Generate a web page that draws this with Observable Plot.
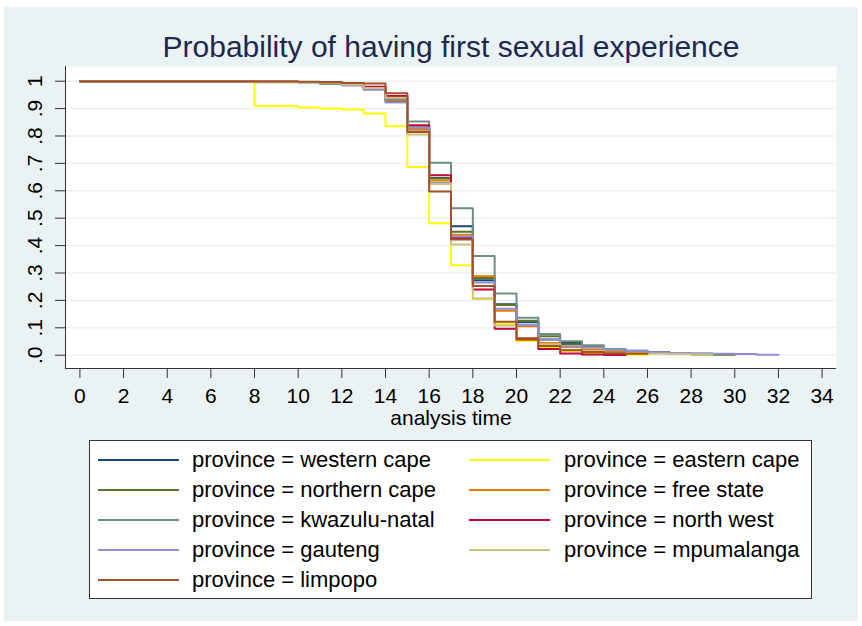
<!DOCTYPE html>
<html><head><meta charset="utf-8">
<script src="https://cdn.jsdelivr.net/npm/d3@7"></script>
<script src="https://cdn.jsdelivr.net/npm/@observablehq/plot@0.6"></script>
<style>
html,body{margin:0;padding:0;background:#fff;}
#wrap{position:relative;width:862px;height:626px;overflow:hidden;background:#fff;font-family:"Liberation Sans",Arial,sans-serif;}
#bg{position:absolute;left:4px;top:7px;width:854px;height:614px;background:#eaf2f3;}
#chart{position:absolute;left:0;top:0;}
#legendBox{position:absolute;left:89px;top:440px;width:723px;height:159px;background:#fff;border:1px solid #333;box-sizing:border-box;}
.sw{position:absolute;height:2px;}
.lb{position:absolute;font-size:22px;line-height:22px;white-space:nowrap;color:#000;}
</style></head>
<body>
<div id="wrap"><div id="bg"></div><div id="chart"></div><div id="legendBox"></div></div>
<script>
// ---- data (survival estimate at each year 0,1,2,... ; series ends one year after its last value) ----
const provinces = ["western cape","eastern cape","northern cape","free state","kwazulu-natal","north west","gauteng","mpumalanga","limpopo"];
const colors = ["#1a476f","#ffff00","#55752f","#e37e00","#6e8e84","#c10534","#938dd2","#cac27e","#a0522d"];

const westernCape  = [1,1,1,1,1,1,1,1, 0.997,0.997,0.997,0.995,0.990,0.975,0.925,0.830,0.647,0.471,0.274,0.186,0.120,0.057,0.045,0.032,0.021,0.016,0.012,0.008,0.005];
const easternCape  = [1,1,1,1,1,1,1,1, 0.909,0.909,0.904,0.900,0.897,0.882,0.836,0.687,0.482,0.328,0.205,0.114,0.052,0.030,0.015,0.008,0.004,0.002];
const northernCape = [1,1,1,1,1,1,1,1, 0.998,0.998,0.997,0.995,0.990,0.975,0.930,0.831,0.645,0.451,0.282,0.183,0.126,0.069,0.040,0.030,0.020,0.012,0.008,0.005,0.003,0.002];
const freeState    = [1,1,1,1,1,1,1,1, 0.998,0.998,0.997,0.995,0.990,0.975,0.930,0.823,0.638,0.440,0.288,0.162,0.106,0.045,0.030,0.021,0.012,0.008];
const kwazuluNatal = [1,1,1,1,1,1,1,1, 0.996,0.996,0.995,0.990,0.985,0.970,0.935,0.853,0.702,0.536,0.362,0.225,0.137,0.077,0.051,0.036,0.022,0.015,0.010];
const northWest    = [1,1,1,1,1,1,1,1, 0.998,0.998,0.997,0.995,0.990,0.980,0.946,0.839,0.657,0.428,0.240,0.097,0.057,0.023,0.006,0.003,0.001];
const gauteng      = [1,1,1,1,1,1,1,1, 0.997,0.997,0.996,0.993,0.985,0.970,0.922,0.830,0.628,0.433,0.265,0.170,0.110,0.057,0.033,0.028,0.020,0.015,0.011,0.008,0.006,0.005,0.004,0.002];
const mpumalanga   = [1,1,1,1,1,1,1,1, 0.997,0.997,0.996,0.993,0.988,0.975,0.940,0.805,0.625,0.404,0.207,0.108,0.062,0.040,0.020,0.015,0.008,0.006,0.005,0.004,0.003];
const limpopo      = [1,1,1,1,1,1,1,1, 0.999,0.999,0.998,0.996,0.993,0.992,0.956,0.815,0.597,0.422,0.253,0.122,0.062,0.034,0.018,0.012,0.007,0.005];

const xTicks = [0,2,4,6,8,10,12,14,16,18,20,22,24,26,28,30,32,34];
const yTicks = [0,0.1,0.2,0.3,0.4,0.5,0.6,0.7,0.8,0.9,1];
const yTickLabels = [".0",".1",".2",".3",".4",".5",".6",".7",".8",".9","1"];
const titleText = "Probability of having first sexual experience";
const xLabel = "analysis time";

// ---- build ----
const seriesValues = [westernCape, easternCape, northernCape, freeState, kwazuluNatal, northWest, gauteng, mpumalanga, limpopo];
function toRows(vals){
  const r = vals.map((s, t) => ({t, s}));
  r.push({t: vals.length, s: vals[vals.length - 1]});
  return r;
}
const xDomain = [-0.66, 34.66];
const yDomain = [-0.0485, 1.0536];
const font = "Liberation Sans, Arial, sans-serif";

const lineMarks = seriesValues.map((vals, i) =>
  Plot.line(toRows(vals), {x: "t", y: "s", curve: "step-after", stroke: colors[i], strokeWidth: 2})
);

const chart = Plot.plot({
  width: 862, height: 400,
  marginLeft: 65, marginRight: 26, marginTop: 66, marginBottom: 32,
  x: {domain: xDomain},
  y: {domain: yDomain},
  style: {fontFamily: font, background: "transparent", color: "#222", overflow: "visible"},
  marks: [
    Plot.frame({fill: "white", stroke: null}),
    Plot.ruleY(yTicks, {stroke: "#eaf2f3", strokeWidth: 1.5}),
    ...lineMarks,
    Plot.ruleX([xDomain[0]], {stroke: "#333", strokeWidth: 1}),
    Plot.ruleY([yDomain[0]], {stroke: "#333", strokeWidth: 1}),
    Plot.axisX({ticks: xTicks, tickSize: 10, tickPadding: 10, fontSize: 21, label: null, stroke: "#333", fill: "#000"}),
    Plot.axisY({ticks: yTicks, tickSize: 10, tickFormat: () => "", label: null, stroke: "#333"}),
    Plot.text(yTicks, {y: d => d, text: (d, i) => yTickLabels[i], frameAnchor: "left", dx: -24, rotate: -90,
      textAnchor: "middle", lineAnchor: "bottom", fontSize: 21, fill: "#000"}),
    Plot.text([titleText], {frameAnchor: "top", dy: -19, lineAnchor: "middle", fontSize: 30, fill: "#1c2a50"}),
    Plot.text([xLabel], {frameAnchor: "bottom", dy: 50, lineAnchor: "middle", fontSize: 21, fill: "#000"})
  ]
});
document.getElementById("chart").appendChild(chart);

// ---- legend ----
const wrap = document.getElementById("wrap");
const rowY = [459.5, 489.5, 519.5, 549.5, 579.5];
const colSwX = [98, 469];
const colTxX = [192, 564];
provinces.forEach((p, i) => {
  const row = Math.floor(i / 2), col = i % 2;
  const sw = document.createElement("div");
  sw.className = "sw";
  sw.style.left = colSwX[col] + "px";
  sw.style.width = "81px";
  sw.style.top = (rowY[row] - 1) + "px";
  sw.style.background = colors[i];
  wrap.appendChild(sw);
  const lb = document.createElement("div");
  lb.className = "lb";
  lb.style.left = colTxX[col] + "px";
  lb.style.top = (rowY[row] - 10.6) + "px";
  lb.textContent = "province = " + p;
  wrap.appendChild(lb);
});
</script>
</body></html>
